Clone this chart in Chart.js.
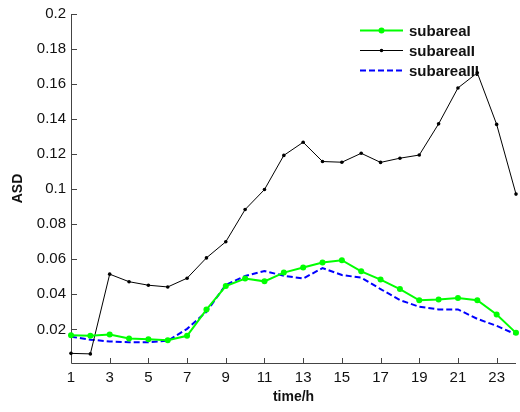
<!DOCTYPE html>
<html>
<head>
<meta charset="utf-8">
<script src="https://cdn.jsdelivr.net/npm/chart.js@4/dist/chart.umd.min.js"></script>
<style>
  html, body { margin: 0; padding: 0; background: #fff; }
  canvas { display: block; }
</style>
</head>
<body>
<canvas id="chart" width="520" height="412"></canvas>
<script>
const FONT = 'Arial, "Liberation Sans", sans-serif';
const TEXT_COLOR = '#111';
const AXIS_COLOR = '#444';

const hours = [1, 2, 3, 4, 5, 6, 7, 8, 9, 10, 11, 12, 13, 14, 15, 16, 17, 18, 19, 20, 21, 22, 23, 24];
const subareaI = [0.0167, 0.0163, 0.0171, 0.0148, 0.0143, 0.0138, 0.0163, 0.0313, 0.0447, 0.0490,
  0.0474, 0.0524, 0.0553, 0.0582, 0.0595, 0.0531, 0.0484, 0.0430, 0.0366, 0.0370, 0.0379, 0.0366, 0.0285, 0.0180];
const subareaII = [0.0063, 0.0060, 0.0515, 0.0472, 0.0452, 0.0442, 0.0492, 0.0608, 0.0700, 0.0884,
  0.0998, 0.1193, 0.1268, 0.1158, 0.1154, 0.1205, 0.1153, 0.1177, 0.1195, 0.1373, 0.1578, 0.1664, 0.1370, 0.0972];
const subareaIII = [0.0158, 0.0141, 0.0131, 0.0127, 0.0127, 0.0135, 0.0203, 0.0300, 0.0454, 0.0505,
  0.0533, 0.0506, 0.0490, 0.0550, 0.0510, 0.0495, 0.0430, 0.0367, 0.0329, 0.0314, 0.0314, 0.0260, 0.0220, 0.0171];

const xTicks = [1, 3, 5, 7, 9, 11, 13, 15, 17, 19, 21, 23];
const yTicks = [0.02, 0.04, 0.06, 0.08, 0.1, 0.12, 0.14, 0.16, 0.18, 0.2];
const yTickLabels = ['0.02', '0.04', '0.06', '0.08', '0.1', '0.12', '0.14', '0.16', '0.18', '0.2'];
const seriesNames = ['subareaI', 'subareaII', 'subareaIII'];

const toPoints = (values) => values.map((v, i) => ({ x: hours[i], y: v }));

// MATLAB-like axes: left/bottom lines with inward tick marks, plus a boxless legend
const matlabAxesPlugin = {
  id: 'matlabAxes',
  beforeDatasetsDraw(chart) {
    const { ctx, chartArea, scales } = chart;
    const { left, right, top, bottom } = chartArea;
    ctx.save();
    ctx.strokeStyle = AXIS_COLOR;
    ctx.lineWidth = 1;
    ctx.beginPath();
    ctx.moveTo(left + 0.5, top);
    ctx.lineTo(left + 0.5, bottom + 0.5);
    ctx.lineTo(right, bottom + 0.5);
    scales.y.ticks.forEach((t) => {
      const py = Math.round(scales.y.getPixelForValue(t.value)) + 0.5;
      ctx.moveTo(left, py);
      ctx.lineTo(left + 6, py);
    });
    scales.x.ticks.forEach((t) => {
      const px = Math.round(scales.x.getPixelForValue(t.value)) + 0.5;
      ctx.moveTo(px, bottom);
      ctx.lineTo(px, bottom - 5);
    });
    ctx.stroke();

    // legend
    const lineX0 = 360;
    const lineX1 = 403;
    const rowY = [30, 50, 70];
    chart.data.datasets.forEach((ds, i) => {
      const y = rowY[i] + 0.5;
      ctx.strokeStyle = ds.borderColor;
      ctx.lineWidth = ds.borderWidth;
      ctx.setLineDash(ds.borderDash || []);
      ctx.beginPath();
      ctx.moveTo(lineX0, y);
      ctx.lineTo(lineX1, y);
      ctx.stroke();
      ctx.setLineDash([]);
      if (ds.pointRadius > 0) {
        ctx.fillStyle = ds.pointBackgroundColor;
        ctx.beginPath();
        ctx.arc((lineX0 + lineX1) / 2, y, ds.pointRadius, 0, Math.PI * 2);
        ctx.fill();
      }
      ctx.fillStyle = TEXT_COLOR;
      ctx.font = `bold 15px ${FONT}`;
      ctx.textAlign = 'left';
      ctx.textBaseline = 'middle';
      ctx.fillText(ds.label, 409, y + 1);
    });
    ctx.restore();
  },
};

new Chart(document.getElementById('chart'), {
  type: 'line',
  data: {
    datasets: [
      {
        label: seriesNames[0],
        data: toPoints(subareaI),
        borderColor: '#00ff00',
        backgroundColor: '#00ff00',
        pointBackgroundColor: '#00ff00',
        pointBorderWidth: 0,
        pointRadius: 3,
        borderWidth: 2,
        tension: 0,
        clip: false,
      },
      {
        label: seriesNames[1],
        data: toPoints(subareaII),
        borderColor: '#000000',
        backgroundColor: '#000000',
        pointBackgroundColor: '#000000',
        pointBorderWidth: 0,
        pointRadius: 1.8,
        borderWidth: 1,
        tension: 0,
        clip: false,
      },
      {
        label: seriesNames[2],
        data: toPoints(subareaIII),
        borderColor: '#0000ff',
        backgroundColor: '#0000ff',
        borderDash: [6, 3],
        pointRadius: 0,
        borderWidth: 2,
        tension: 0,
        clip: false,
      },
    ],
  },
  options: {
    responsive: false,
    animation: false,
    devicePixelRatio: 1,
    layout: { padding: { top: 11, right: 1, left: 0, bottom: 0 } },
    plugins: {
      legend: { display: false },
      tooltip: { enabled: false },
    },
    scales: {
      x: {
        type: 'linear',
        min: 1,
        max: 24,
        grid: { display: false, drawTicks: false },
        border: { display: false },
        afterBuildTicks(scale) {
          scale.ticks = xTicks.map((v) => ({ value: v }));
        },
        afterFit(scale) {
          scale.height = 49;
        },
        ticks: {
          color: TEXT_COLOR,
          font: { family: FONT, size: 15 },
          padding: 6,
          maxRotation: 0,
          autoSkip: false,
          callback: (v) => String(v),
        },
        title: {
          display: true,
          text: 'time/h',
          color: TEXT_COLOR,
          font: { family: FONT, size: 14, weight: 'bold' },
          padding: { top: 0, bottom: 6 },
        },
      },
      y: {
        type: 'linear',
        min: 0.0008,
        max: 0.2,
        grid: { display: false, drawTicks: false },
        border: { display: false },
        afterBuildTicks(scale) {
          scale.ticks = yTicks.map((v) => ({ value: v }));
        },
        afterFit(scale) {
          scale.width = 71;
        },
        ticks: {
          color: TEXT_COLOR,
          font: { family: FONT, size: 15 },
          padding: 5,
          autoSkip: false,
          callback: (v, i) => yTickLabels[i],
        },
        title: {
          display: true,
          text: 'ASD',
          color: TEXT_COLOR,
          font: { family: FONT, size: 14, weight: 'bold' },
          padding: { top: 10, bottom: 0 },
        },
      },
    },
  },
  plugins: [matlabAxesPlugin],
});
</script>
</body>
</html>
